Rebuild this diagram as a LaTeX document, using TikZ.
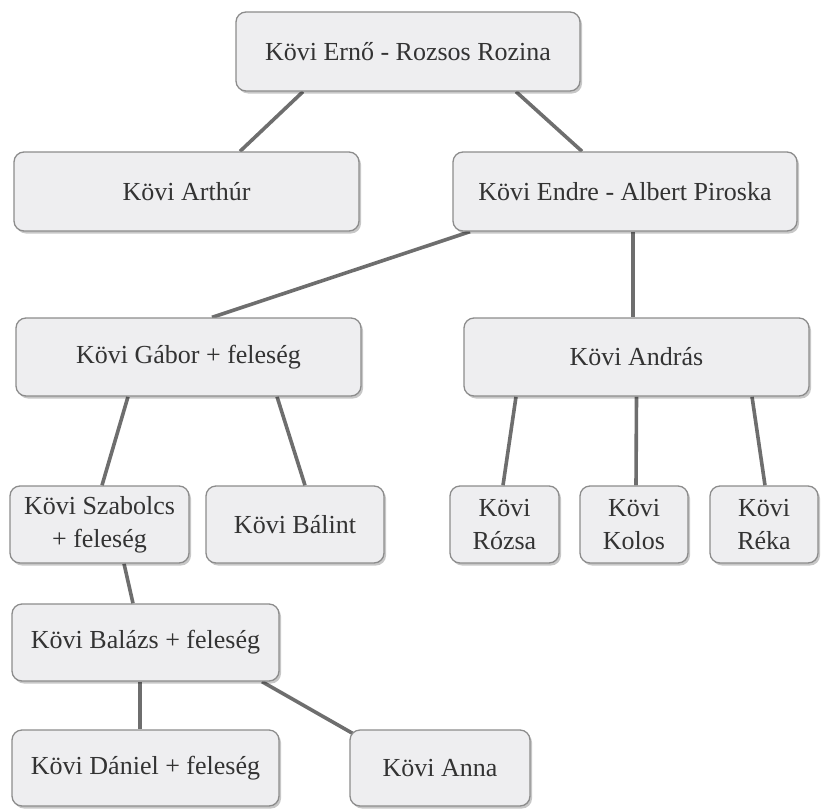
\documentclass[tikz,border=0pt]{standalone}
\usepackage{fontspec}
\setmainfont{Liberation Serif}
\usetikzlibrary{shadows,backgrounds}
\definecolor{boxfill}{HTML}{EEEEF0}
\definecolor{boxline}{HTML}{8C8C8C}
\definecolor{txt}{HTML}{333333}
\definecolor{conn}{HTML}{6E6E6E}
\tikzset{
  box/.style={draw=boxline, line width=1.3pt, fill=boxfill, rounded corners=10pt,
    inner sep=0pt, align=center, text=txt,
    font=\fontsize{26}{33}\selectfont,
    drop shadow={shadow xshift=2pt, shadow yshift=-2.5pt, fill=black, opacity=0.22}},
  link/.style={draw=conn, line width=3.6pt}
}
\begin{document}
\begin{tikzpicture}[x=1pt, y=-1pt]
\useasboundingbox (0,0) rectangle (821,808);
\node[box, minimum width=344pt, minimum height=79pt] (top) at (408,51.5) {Kövi Ernő - Rozsos Rozina};
\node[box, minimum width=345pt, minimum height=79pt] (arthur) at (186.5,191.5) {Kövi Arthúr};
\node[box, minimum width=344pt, minimum height=79pt] (endre) at (625,191.5) {Kövi Endre - Albert Piroska};
\node[box, minimum width=345pt, minimum height=78pt] (gabor) at (188.5,357) {Kövi Gábor + feleség};
\node[box, minimum width=345pt, minimum height=78pt] (andras) at (636.5,357) {Kövi András};
\node[box, minimum width=179pt, minimum height=77pt] (szabolcs) at (99.5,524.5) {Kövi Szabolcs\\+ feleség};
\node[box, minimum width=178pt, minimum height=77pt] (balint) at (295,524.5) {Kövi Bálint};
\node[box, minimum width=109pt, minimum height=77pt] (rozsa) at (504.5,524.5) {Kövi\\Rózsa};
\node[box, minimum width=108pt, minimum height=77pt] (kolos) at (634,524.5) {Kövi\\Kolos};
\node[box, minimum width=108pt, minimum height=77pt] (reka) at (764,524.5) {Kövi\\Réka};
\node[box, minimum width=267pt, minimum height=77pt] (balazs) at (145.5,642.5) {Kövi Balázs + feleség};
\node[box, minimum width=267pt, minimum height=76pt] (daniel) at (145.5,768) {Kövi Dániel + feleség};
\node[box, minimum width=180pt, minimum height=76pt] (anna) at (440,768) {Kövi Anna};
\begin{scope}[on background layer]
\draw[link] ([xshift=-105pt]top.south) -- ([xshift=53.5pt]arthur.north);
\draw[link] ([xshift=108pt]top.south) -- ([xshift=-43pt]endre.north);
\draw[link] ([xshift=-155pt]endre.south) -- ([xshift=23.5pt]gabor.north);
\draw[link] ([xshift=8pt]endre.south) -- ([xshift=-3.5pt]andras.north);
\draw[link] ([xshift=-60.5pt]gabor.south) -- ([xshift=2.5pt]szabolcs.north);
\draw[link] ([xshift=88.5pt]gabor.south) -- ([xshift=10pt]balint.north);
\draw[link] ([xshift=-120.5pt]andras.south) -- ([xshift=-1.5pt]rozsa.north);
\draw[link] ([xshift=0pt]andras.south) -- ([xshift=2pt]kolos.north);
\draw[link] ([xshift=115.5pt]andras.south) -- ([xshift=1pt]reka.north);
\draw[link] ([xshift=24.5pt]szabolcs.south) -- ([xshift=-12.5pt]balazs.north);
\draw[link] ([xshift=-5.5pt]balazs.south) -- ([xshift=-5.5pt]daniel.north);
\draw[link] ([xshift=116.5pt]balazs.south) -- ([shift={(5pt,-5pt)}]anna.north west);
\end{scope}
\end{tikzpicture}
\end{document}
